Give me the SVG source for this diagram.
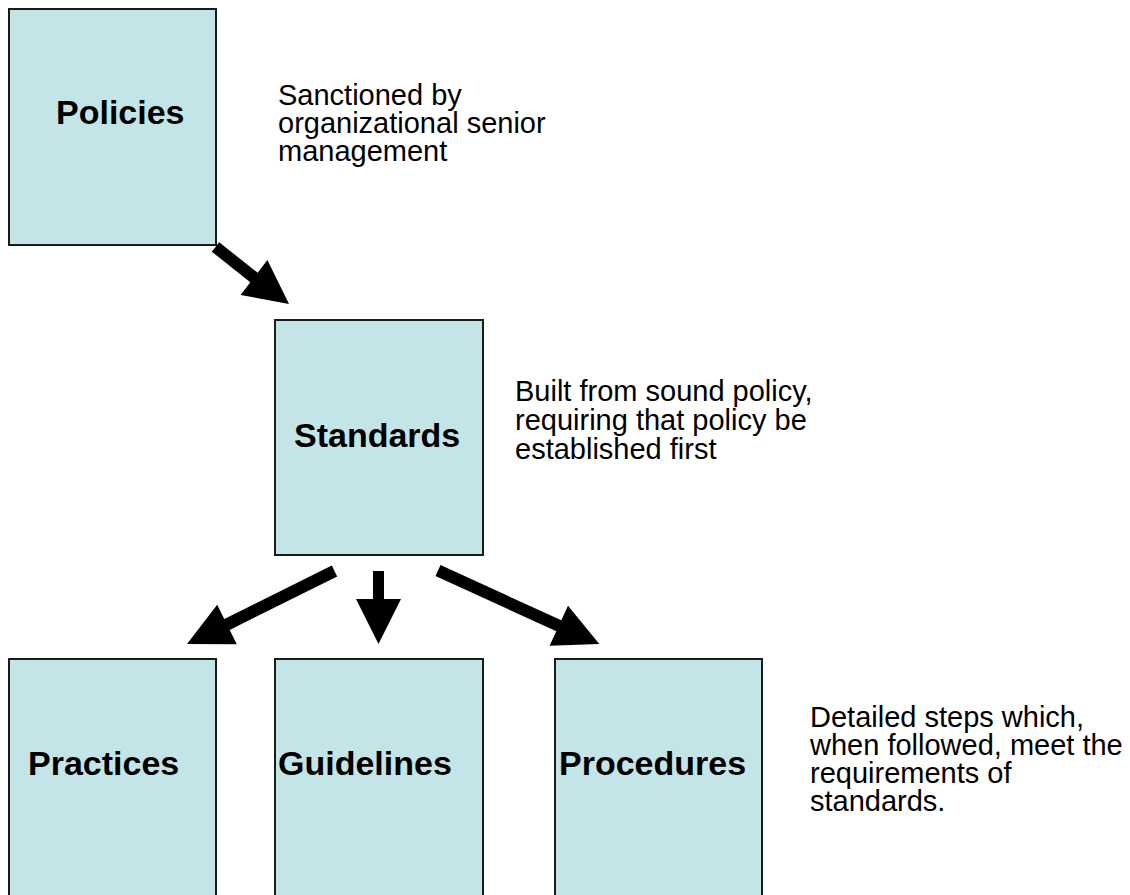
<svg xmlns="http://www.w3.org/2000/svg" width="1130" height="895" viewBox="0 0 1130 895">
<style>
.box{fill:#C4E5E8;stroke:#1a1a1a;stroke-width:2}
.lbl{font-family:"Liberation Sans",Arial,sans-serif;font-weight:bold;font-size:34px;fill:#000}
.desc{font-family:"Liberation Sans",Arial,sans-serif;font-size:29px;fill:#000}
.arrow{fill:#000}
</style>
<rect width="1130" height="895" fill="#fff"/>
<g id="policies">
<rect class="box" x="9" y="9" width="207" height="236"/>
<text class="lbl" x="56" y="124">Policies</text>
</g>
<g id="standards">
<rect class="box" x="275" y="320" width="208" height="235"/>
<text class="lbl" x="294" y="447">Standards</text>
</g>
<g id="practices">
<rect class="box" x="9" y="659" width="207" height="250"/>
<text class="lbl" x="28" y="775">Practices</text>
</g>
<g id="guidelines">
<rect class="box" x="275" y="659" width="208" height="250"/>
<text class="lbl" x="278" y="775">Guidelines</text>
</g>
<g id="procedures">
<rect class="box" x="555" y="659" width="207" height="250"/>
<text class="lbl" x="559" y="775">Procedures</text>
</g>
<g id="notes">
<text class="desc" x="278" y="105">Sanctioned by</text>
<text class="desc" x="278" y="133">organizational senior</text>
<text class="desc" x="278" y="161">management</text>
<text class="desc" x="515" y="401">Built from sound policy,</text>
<text class="desc" x="515" y="430">requiring that policy be</text>
<text class="desc" x="515" y="459">established first</text>
<text class="desc" x="810" y="727">Detailed steps which,</text>
<text class="desc" x="810" y="755">when followed, meet the</text>
<text class="desc" x="810" y="783">requirements of</text>
<text class="desc" x="810" y="811">standards.</text>
</g>
<g id="connectors">
<polygon class="arrow" points="219.2,242.3 257.7,272.8 267.4,260.1 289,304 240.6,294.9 250.3,282.2 211.8,251.7"/>
<polygon class="arrow" points="331.8,565.6 224.3,619.1 217.2,604.8 187,644 236.8,644.2 229.7,629.9 337.2,576.4"/>
<polygon class="arrow" points="373,571 384,571 384,599 401,599 378.5,644 356,599 373,599"/>
<polygon class="arrow" points="440.5,565.1 561.3,620.3 568,605.8 599.3,644 549.6,645.8 556.3,631.3 435.5,575.9"/>
</g>
</svg>
